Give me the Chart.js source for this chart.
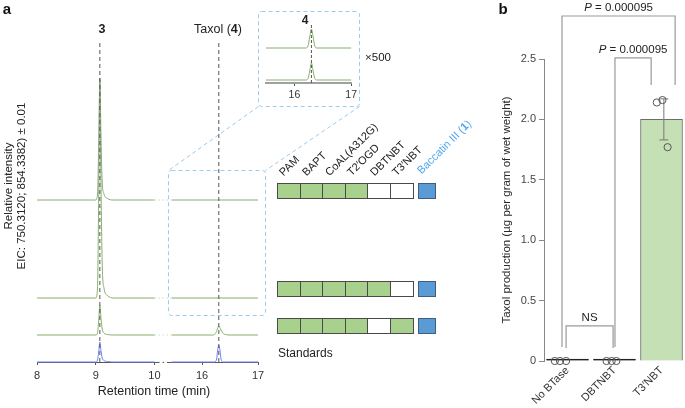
<!DOCTYPE html>
<html><head><meta charset="utf-8">
<script src="https://cdn.jsdelivr.net/npm/chart.js@4.4.1/dist/chart.umd.min.js"></script>
<style>
html,body{margin:0;padding:0;background:#fff;}
#wrap{position:relative;width:685px;height:408px;overflow:hidden;font-family:'Liberation Sans',Arial,Helvetica,sans-serif;color:#222;}
#wrap canvas,#wrap svg{position:absolute;}
.t{position:absolute;white-space:nowrap;line-height:1;}
.cell{position:absolute;box-sizing:border-box;border:1px solid #4a4a4a;}
</style></head><body>
<div id="wrap">
<svg id="deco" width="685" height="408" style="left:0;top:0">
 <g fill="none" stroke="#9ccbee" stroke-width="1" stroke-dasharray="4 3">
  <rect x="258.5" y="11.5" width="101" height="95" rx="3"/>
  <rect x="168.5" y="170.5" width="97" height="145" rx="3"/>
  <line x1="258.5" y1="106.5" x2="168.5" y2="170.5"/>
  <line x1="359.5" y1="106.5" x2="265.5" y2="170.5"/>
 </g>
</svg>
<canvas id="cA" width="685" height="408" style="left:0;top:0"></canvas>
<canvas id="cI" width="102" height="110" style="left:258px;top:0"></canvas>
<canvas id="cB" width="215" height="408" style="left:470px;top:0"></canvas>
</div>
<script>
Chart.defaults.font.family = "'Liberation Sans', Arial, Helvetica, sans-serif";
Chart.defaults.color = '#333';

// ================= Panel a data (retention time, relative intensity) =================
const rtTicks = [8, 9, 10, 16, 17];
const peakRT = [9.07, 16.30];
const axisBreak = [10.0, 15.46];
const eicNoBTase = [[8,0],[9.00,0],[9.03,6],[9.05,55],[9.07,122],[9.09,60],[9.11,18],[9.14,6],[9.20,1.5],[9.30,0],[10,0],[13,null],[15.46,0],[17,0]];
const eicDBTNBT = [[8,0],[9.00,0],[9.03,10],[9.05,100],[9.07,218],[9.09,110],[9.11,34],[9.14,10],[9.20,2.5],[9.30,0],[10,0],[13,null],[15.46,0],[17,0]];
const eicT3NBT = [[8,0],[9.00,0],[9.03,2],[9.05,14],[9.07,30],[9.09,16],[9.11,6],[9.14,2],[9.20,0.5],[9.30,0],[10,0],[13,null],[15.46,0],[16.20,0],[16.25,2.5],[16.28,7],[16.30,9],[16.33,6],[16.37,2],[16.42,0.5],[16.50,0],[17,0]];
const eicStandards = [[8,0],[9.00,0],[9.03,2],[9.05,10],[9.07,20],[9.09,11],[9.11,4],[9.14,1.5],[9.20,0.5],[9.30,0],[10,0],[13,null],[15.46,0],[16.22,0],[16.26,3],[16.28,12],[16.30,17],[16.32,12],[16.34,3],[16.38,0],[17,0]];
const insetTicks = [16, 17];
const insetNoBTase = [[15.5,0],[16.20,0],[16.24,2],[16.27,11],[16.30,19],[16.33,11],[16.36,2],[16.40,0],[17,0]];
const insetDBTNBT = [[15.5,0],[16.20,0],[16.24,1.5],[16.27,9],[16.30,17],[16.33,9],[16.36,1.5],[16.40,0],[17,0]];

// gene table
const geneCols = ['PAM','BAPT','CoAL(A312G)','T2\u2032OGD','DBTNBT','T3\u2032NBT'];
const strainRows = [[1,1,1,1,0,0],[1,1,1,1,1,0],[1,1,1,1,0,1]];

// ================= Panel b data =================
const groups = ['No BTase','DBTNBT','T3\u2032NBT'];
const taxolMean = [0, 0, 2.0];
const taxolSD = [0, 0, 0.17];
const replicates = [[0,0,0],[0,0,0],[2.14,2.16,1.77]];
const yTicksB = [0, 0.5, 1.0, 1.5, 2.0, 2.5];
const bracketLabels = ['P = 0.000095','P = 0.000095','NS'];
const yTitleB = 'Taxol production (\u00b5g per gram of wet weight)';

// ================= layout / style =================
const SEG2_POS = 10.809, SEG2_K = 0.953;
const rt = t => t <= 12 ? t : SEG2_POS + (t - 16) * SEG2_K;
const traceOffsets = [162, 64, 27, 0];
const traceColors = ['#8ea880','#84b06a','#84b06a','#6f7ff0'];
const insetOffsets = [35, 3];
const jitter = [[-0.27,-0.16,-0.03],[-0.17,-0.06,0.04],[-0.10,0.02,0.13]];
const bracketGeom = [
  {x1:-0.117, x2:2.29, top:2.856, y1:0.116, y2:2.285, italic:true},
  {x1:1.01, x2:1.78, top:2.51, y1:0.116, y2:2.285, italic:true},
  {x1:-0.03, x2:0.97, top:0.29, y1:0.108, y2:0.108, italic:false}];
const errX = 0.05, capW = 0.095;

const skipped = (ctx, v) => (ctx.p0.skip || ctx.p1.skip) ? v : undefined;
const toXY = (arr, off, f) => arr.map(([t, v]) => ({x: f(t), y: v === null ? null : off + v}));
const wrap = document.getElementById('wrap');
function addText(html, x, y, o = {}) {
  const d = document.createElement('div');
  d.className = 't';
  d.innerHTML = html;
  d.style.fontSize = (o.size || 12) + 'px';
  d.style.fontWeight = o.weight || 400;
  d.style.color = o.color || '#222';
  d.style.left = x + 'px'; d.style.top = y + 'px';
  const ax = o.left ? '0' : '-50%';
  d.style.transform = `translate(${ax},-50%)` + (o.rot ? ` rotate(${o.rot}deg)` : '');
  wrap.appendChild(d);
  return d;
}

// ---------- Chart A ----------
const axisPlugin = {
  id: 'axisBreak',
  beforeDatasetsDraw(chart) {
    const {ctx, scales: {x}, chartArea} = chart;
    const y = chartArea.bottom + 0.5;
    const seg = (a, b, dash) => {
      ctx.beginPath(); ctx.setLineDash(dash);
      ctx.moveTo(x.getPixelForValue(rt(a)), y); ctx.lineTo(x.getPixelForValue(rt(b)), y); ctx.stroke();
    };
    ctx.save(); ctx.strokeStyle = '#555'; ctx.lineWidth = 1.2;
    seg(rtTicks[0], axisBreak[0], []);
    seg(axisBreak[0], axisBreak[1], [5, 3, 1.5, 3]);
    seg(axisBreak[1], rtTicks[rtTicks.length - 1], []);
    ctx.restore();
  }
};
const traces = [eicNoBTase, eicDBTNBT, eicT3NBT, eicStandards];
const markerTop = 322;
const chartA = new Chart(document.getElementById('cA'), {
  type: 'line',
  data: { datasets: [
    ...peakRT.map(t => ({data:[{x:rt(t),y:0},{x:rt(t),y:markerTop}], borderColor:'#555', borderWidth:1, borderDash:[4,3], pointRadius:0})),
    ...traces.map((tr, i) => ({
      data: toXY(tr, traceOffsets[i], rt), borderColor: traceColors[i], borderWidth: 1, pointRadius: 0,
      cubicInterpolationMode: 'monotone', spanGaps: true, clip: false,
      segment: { borderDash: c => skipped(c, [1.5, 2.5]), borderColor: c => skipped(c, 'rgba(150,170,140,0.45)') }
    }))
  ]},
  options: {
    responsive: false, animation: false, events: [],
    layout: { autoPadding: false, padding: { left: 37, right: 427, top: 20, bottom: 0 } },
    plugins: { legend: {display:false}, tooltip: {enabled:false} },
    scales: {
      x: { type:'linear', min: rt(8), max: rt(17),
        afterBuildTicks: s => { s.ticks = rtTicks.map(v => ({value: rt(v)})); },
        ticks: { autoSkip:false, maxRotation:0, padding:4, font:{size:11}, color:'#333',
          callback: (v, i) => rtTicks[i] },
        grid: { drawOnChartArea:false, drawTicks:true, tickLength:3, color:'#555' },
        border: { display:false },
        afterFit: s => { s.height = 46; } },
      y: { display:false, min:0, max:342 }
    }
  },
  plugins: [axisPlugin]
});

// ---------- Inset ----------
new Chart(document.getElementById('cI'), {
  type: 'line',
  data: { datasets: [
    {data:[{x:peakRT[1],y:0},{x:peakRT[1],y:58}], borderColor:'#555', borderWidth:1, borderDash:[3,2], pointRadius:0},
    ...[insetNoBTase, insetDBTNBT].map((tr, i) => ({
      data: toXY(tr, insetOffsets[i], t => t), borderColor:'#84b06a', borderWidth:1, pointRadius:0,
      cubicInterpolationMode:'monotone', clip:false }))
  ]},
  options: {
    responsive:false, animation:false, events:[],
    layout: { autoPadding: false, padding: { left: 8, right: 8, top: 20, bottom: 0 } },
    plugins: { legend:{display:false}, tooltip:{enabled:false} },
    scales: {
      x: { type:'linear', min:15.5, max:17,
        afterBuildTicks: s => { s.ticks = insetTicks.map(v => ({value:v})); },
        ticks: { autoSkip:false, maxRotation:0, padding:3, font:{size:10.5}, color:'#333' },
        grid: { drawOnChartArea:false, tickLength:3, color:'#555' },
        border: { color:'#a0a0a0', width:2 },
        afterFit: s => { s.height = 27; } },
      y: { display:false, min:0, max:63 }
    }
  }
});

// ---------- Chart B (single linear x axis: groups at 0,1,2) ----------
const bracketLabelPlugin = {
  id: 'bracketLabels',
  afterDatasetsDraw(chart) {
    const {ctx, scales: {x, y}} = chart;
    ctx.save();
    ctx.fillStyle = '#222'; ctx.textBaseline = 'bottom';
    bracketGeom.forEach((b, i) => {
      const cx = x.getPixelForValue((b.x1 + b.x2) / 2);
      const ty = y.getPixelForValue(b.top) - 2;
      const txt = bracketLabels[i];
      const fReg = "11.5px 'Liberation Sans', Arial, sans-serif";
      const fIt = "italic 11.5px 'Liberation Sans', Arial, sans-serif";
      if (b.italic && txt.startsWith('P')) {
        ctx.font = fIt; const w1 = ctx.measureText('P').width;
        ctx.font = fReg; const rest = txt.slice(1); const w2 = ctx.measureText(rest).width;
        const x0 = cx - (w1 + w2) / 2;
        ctx.textAlign = 'left';
        ctx.font = fIt; ctx.fillText('P', x0, ty);
        ctx.font = fReg; ctx.fillText(rest, x0 + w1, ty);
      } else {
        ctx.font = fReg; ctx.textAlign = 'center'; ctx.fillText(txt, cx, ty);
      }
    });
    // y-axis title
    ctx.translate(37, 210); ctx.rotate(-Math.PI / 2);
    ctx.font = "11.5px 'Liberation Sans', Arial, sans-serif";
    ctx.fillStyle = '#2a2a2a'; ctx.textAlign = 'center'; ctx.textBaseline = 'middle';
    ctx.fillText(yTitleB, 0, 0);
    ctx.restore();
  }
};
const errData = [];
taxolMean.forEach((m, i) => {
  if (taxolSD[i] > 0) {
    const lo = m - taxolSD[i], hi = m + taxolSD[i], xc = i + errX;
    errData.push({x:xc-capW,y:lo},{x:xc+capW,y:lo},{x:xc,y:null},{x:xc,y:lo},{x:xc,y:hi},{x:xc,y:null},{x:xc-capW,y:hi},{x:xc+capW,y:hi});
  }
});
new Chart(document.getElementById('cB'), {
  type: 'bar',
  data: { datasets: [
    ...bracketGeom.map(b => ({ type:'line', clip:false, borderColor:'#9a9a9a', borderWidth:1.2, pointRadius:0, tension:0,
      data:[{x:b.x1,y:b.y1},{x:b.x1,y:b.top},{x:b.x2,y:b.top},{x:b.x2,y:b.y2}] })),
    { type:'line', showLine:false, clip:false, pointRadius:3.6, pointBorderColor:'#555', pointBackgroundColor:'rgba(255,255,255,0)', pointBorderWidth:1,
      data: replicates.flatMap((vals, i) => vals.map((v, j) => ({x: i + jitter[i][j], y: v}))) },
    { type:'line', clip:false, borderColor:'#777', borderWidth:1, pointRadius:0, spanGaps:false, data: errData },
    { type:'bar', data: taxolMean.map((v, i) => ({x:i, y:v})), backgroundColor:['#222','#222','#c5e0b4'], borderColor:['#222','#222','#6d6d6d'],
      borderWidth:1, minBarLength:2, barThickness:42 }
  ]},
  options: {
    responsive:false, animation:false, events:[],
    layout: { autoPadding: false, padding: { left:0, right:0, top:59, bottom:0 } },
    plugins: { legend:{display:false}, tooltip:{enabled:false} },
    scales: {
      x: { type:'linear', min:-0.5, max:2.5, offset:false,
        afterBuildTicks: s => { s.ticks = groups.map((g, i) => ({value:i})); },
        ticks: { autoSkip:false, maxRotation:45, minRotation:45, padding:3, font:{size:11}, color:'#333',
          callback: (v, i) => groups[i] },
        grid: { display:false, drawTicks:false }, border: { display:false },
        afterFit: s => { s.height = 47; s.paddingLeft = 0; s.paddingRight = 0; } },
      y: { min:0, max:2.5,
        afterBuildTicks: s => { s.ticks = yTicksB.map(v => ({value:v})); },
        ticks: { callback: v => v === 0 ? '0' : v.toFixed(1), font:{size:11}, color:'#444', padding:3 },
        grid: { drawOnChartArea:false, tickLength:5, color:'#888' },
        border: { color:'#888' },
        afterFit: s => { s.width = 74; s.paddingTop = 0; s.paddingBottom = 0; } }
    }
  },
  plugins: [bracketLabelPlugin]
});

// ---------- Gene table (HTML), rows aligned with traces ----------
const yA = chartA.scales.y;
const cellL = 277, cellW = 22.6, cellH = 16, blueL = 418, blueW = 18;
strainRows.forEach((row, r) => {
  const top = Math.round(yA.getPixelForValue(traceOffsets[r])) - 17;
  row.forEach((on, c) => {
    const d = document.createElement('div'); d.className = 'cell';
    d.style.left = (cellL + c * cellW) + 'px'; d.style.top = top + 'px';
    d.style.width = (cellW + 1) + 'px'; d.style.height = cellH + 'px';
    d.style.background = on ? '#a9d18e' : '#fff';
    wrap.appendChild(d);
  });
  const b = document.createElement('div'); b.className = 'cell';
  b.style.left = blueL + 'px'; b.style.top = top + 'px'; b.style.width = blueW + 'px'; b.style.height = cellH + 'px';
  b.style.background = '#5b9bd5'; b.style.borderColor = '#3f5f80';
  wrap.appendChild(b);
});
function addRot(html, x, y, size, color) {
  const d = document.createElement('div'); d.className = 't';
  d.innerHTML = html; d.style.fontSize = size + 'px'; d.style.color = color;
  d.style.left = x + 'px'; d.style.top = (y - size) + 'px';
  d.style.transformOrigin = '0 100%'; d.style.transform = 'rotate(-45deg)';
  wrap.appendChild(d);
}
const hdrY = Math.round(yA.getPixelForValue(traceOffsets[0])) - 22;
geneCols.forEach((g, c) => addRot(g, cellL + c * cellW + cellW / 2 - 3, hdrY, 11, '#222'));
addRot('Baccatin III (<b>1</b>)', blueL + 5, hdrY - 2, 11, '#4da6ee');
addText('Standards', 278, Math.round(yA.getPixelForValue(traceOffsets[3])) - 9, {size:12, left:true});

// ---------- Text labels ----------
addText('a', 7, 8, {size:15, weight:700, color:'#111'});
addText('b', 503, 8, {size:15, weight:700, color:'#111'});
addText('3', 102, 29, {size:12.5, weight:700});
addText('Taxol (<b>4</b>)', 218, 29, {size:12.5});
addText('4', 305, 20, {size:12, weight:700});
addText('\u00d7500', 378, 58, {size:11.5});
addText('Retention time (min)', 154, 391, {size:12.5});
addText('Relative intensity', 9, 186, {size:11.5, rot:-90});
addText('EIC: 750.3120; 854.3382) \u00b1 0.01', 22, 186, {size:11.5, rot:-90});
</script>
</body></html>
